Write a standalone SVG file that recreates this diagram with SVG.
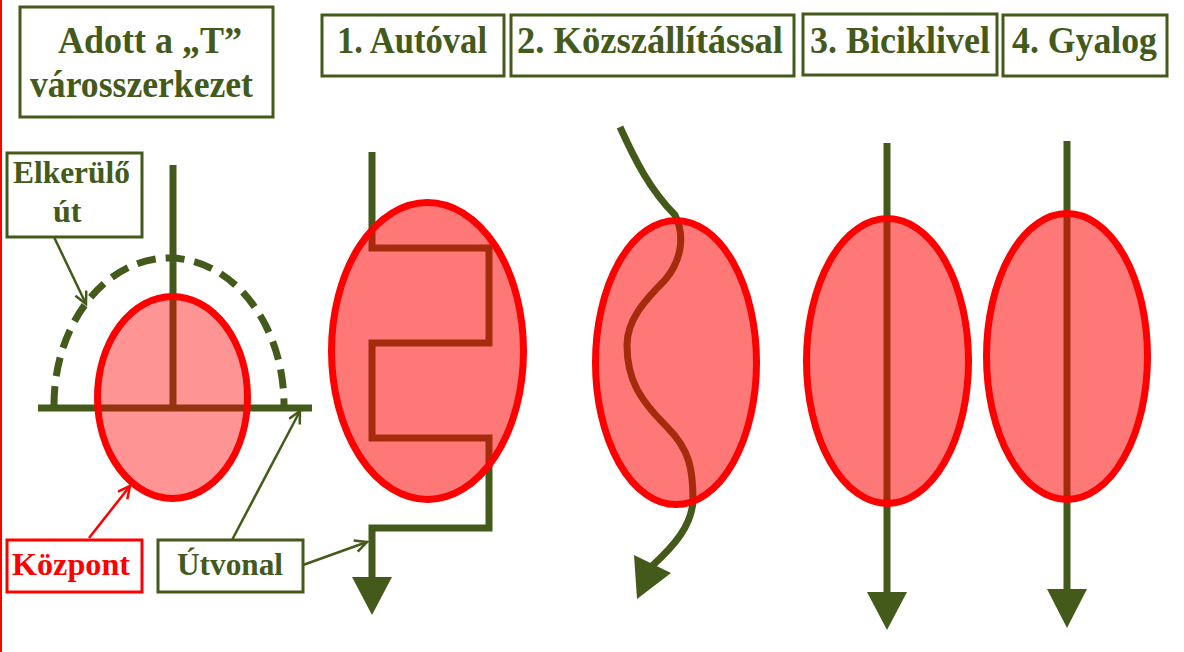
<svg xmlns="http://www.w3.org/2000/svg" width="1184" height="652" viewBox="0 0 1184 652">
<style>
.box{fill:#fff;stroke:#435A1B;stroke-width:3}
.rbox{fill:#fff;stroke:#FF0000;stroke-width:3}
.t{font-family:"Liberation Serif","Times New Roman",serif;font-weight:bold;fill:#435A1B}
.h{font-size:37px}
.s{font-size:32px}
.route{fill:none;stroke:#435A1B;stroke-width:7}
.head{fill:#435A1B}
.city{fill:rgba(255,0,0,0.53);stroke:#FF0000;stroke-width:7}
.thin{fill:none;stroke:#435A1B;stroke-width:2.5}
.thinr{fill:none;stroke:#FF0000;stroke-width:2.5}
</style>
<defs>
<marker id="ag" markerUnits="userSpaceOnUse" markerWidth="16" markerHeight="16" refX="13" refY="7" orient="auto">
<path d="M1,1 L13,7 L1,13" fill="none" stroke="#435A1B" stroke-width="2.5"/>
</marker>
<marker id="ar" markerUnits="userSpaceOnUse" markerWidth="16" markerHeight="16" refX="13" refY="7" orient="auto">
<path d="M1,1 L13,7 L1,13" fill="none" stroke="#FF0000" stroke-width="2.5"/>
</marker>
</defs>
<rect width="1184" height="652" fill="#fff"/>
<line x1="1" y1="0" x2="1" y2="652" stroke="#FF0000" stroke-width="2"/>

<g id="connectors">
<!-- T structure -->
<path class="route" d="M173,165 L173,408 M38,408 L312,408"/>
<path class="route" d="M54,405 A115,147 0 0 1 284,405" stroke-dasharray="19 10"/>
<!-- 1. Autoval -->
<path class="route" d="M372,152 L372,248 L489,248 L489,343 L372,343 L372,438 L489,438 L489,528 L372,528 L372,580"/>
<polygon class="head" points="352,577 392,577 372,615"/>
<!-- 2. Kozszallitassal -->
<path class="route" d="M620,127 C635,160 650,190 675,215 C685,235 682,260 665,280 C645,300 627,320 627,345 C627,380 640,400 667,427 C690,450 693,470 693,500 C692,525 675,545 652,566"/>
<polygon class="head" points="634,555 671,573 637,599"/>
<!-- 3. Biciklivel -->
<path class="route" d="M887,143 L887,595"/>
<polygon class="head" points="867,592 907,592 887,630"/>
<!-- 4. Gyalog -->
<path class="route" d="M1067,141 L1067,592"/>
<polygon class="head" points="1047,589 1087,589 1067,628"/>
<!-- label pointers -->
<line class="thin" x1="54" y1="237" x2="86" y2="304" marker-end="url(#ag)"/>
<line class="thinr" x1="89" y1="538" x2="130" y2="486" marker-end="url(#ar)"/>
<line class="thin" x1="232" y1="540" x2="300" y2="411" marker-end="url(#ag)"/>
<line class="thin" x1="303" y1="565" x2="367" y2="542" marker-end="url(#ag)"/>
</g>

<g id="city-t">
<ellipse class="city" cx="172.5" cy="397.5" rx="75" ry="101" style="fill:rgba(255,0,0,0.42)"/>
</g>
<g id="city-auto">
<ellipse class="city" cx="427.5" cy="351" rx="96" ry="148.5"/>
</g>
<g id="city-kozszallitas">
<ellipse class="city" cx="676" cy="362.5" rx="80.5" ry="142"/>
</g>
<g id="city-bicikli">
<ellipse class="city" cx="887.5" cy="361" rx="81" ry="142.5"/>
</g>
<g id="city-gyalog">
<ellipse class="city" cx="1067" cy="356.5" rx="80.5" ry="143"/>
</g>

<g id="title">
<rect class="box" x="20" y="7" width="253" height="110"/>
<text class="t h" x="58" y="53" textLength="184" lengthAdjust="spacingAndGlyphs">Adott a „T”</text>
<text class="t h" x="30" y="97" textLength="223" lengthAdjust="spacingAndGlyphs">városszerkezet</text>
</g>
<g id="h1">
<rect class="box" x="322" y="15" width="182" height="61"/>
<text class="t h" x="337" y="53" textLength="150" lengthAdjust="spacingAndGlyphs">1. Autóval</text>
</g>
<g id="h2">
<rect class="box" x="511" y="15" width="283" height="61"/>
<text class="t h" x="517" y="53" textLength="266" lengthAdjust="spacingAndGlyphs">2. Közszállítással</text>
</g>
<g id="h3">
<rect class="box" x="803" y="14" width="194" height="61"/>
<text class="t h" x="810" y="53" textLength="180" lengthAdjust="spacingAndGlyphs">3. Biciklivel</text>
</g>
<g id="h4">
<rect class="box" x="1003" y="15" width="164" height="61"/>
<text class="t h" x="1012" y="53" textLength="145" lengthAdjust="spacingAndGlyphs">4. Gyalog</text>
</g>
<g id="elkerulo">
<rect class="box" x="7" y="153" width="135" height="84"/>
<text class="t s" x="13" y="183" textLength="117" lengthAdjust="spacingAndGlyphs">Elkerülő</text>
<text class="t s" x="53" y="222">út</text>
</g>
<g id="kozpont">
<rect class="rbox" x="7" y="540" width="135" height="52"/>
<text class="t s" x="12" y="575" textLength="118" lengthAdjust="spacingAndGlyphs" style="fill:#FF0000">Központ</text>
</g>
<g id="utvonal">
<rect class="box" x="158" y="540" width="145" height="52"/>
<text class="t s" x="177" y="575" textLength="106" lengthAdjust="spacingAndGlyphs">Útvonal</text>
</g>
</svg>
